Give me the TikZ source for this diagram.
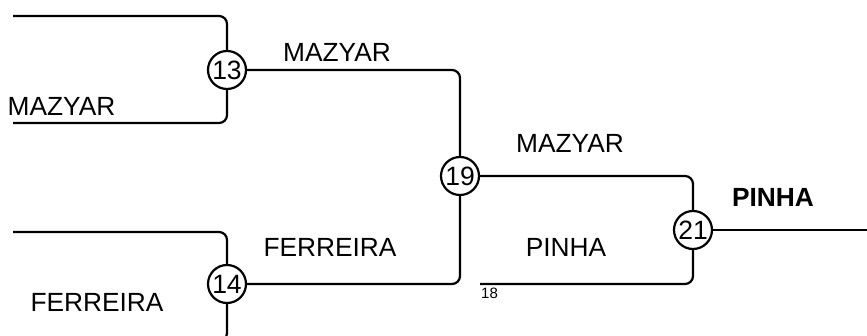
\documentclass[tikz,border=0pt]{standalone}
\usepackage{fontspec}
\setmainfont{Liberation Sans}
\begin{document}
\begin{tikzpicture}[x=1pt,y=-1pt,
  wire/.style={line width=2.2pt,rounded corners=8pt},
  match/.style={circle,draw,line width=2.2pt,minimum size=38pt,inner sep=0pt,font=\fontsize{26.5}{28}\selectfont},
  lbl/.style={inner sep=0pt,font=\fontsize{26.3}{30}\selectfont},
  small/.style={inner sep=0pt,font=\fontsize{15}{17}\selectfont}]
\useasboundingbox (0,0) rectangle (867,336);
\node[match] (n13) at (227,70) {13};
\node[match] (n14) at (227,284) {14};
\node[match] (n19) at (460,176) {19};
\node[match] (n21) at (693,230) {21};
\coordinate (ta) at (13,16);
\coordinate (tb) at (13,123);
\coordinate (ba) at (13,232);
\coordinate (bb) at (13,341);
\coordinate (c18) at (480,284);
\coordinate (fin) at (870,230);
\draw[wire] (ta) -| (n13);
\draw[wire] (tb) -| (n13);
\draw[wire] (ba) -| (n14);
\draw[wire] (n14) |- (bb);
\draw[wire] (n13) -| (n19);
\draw[wire] (n14) -| (n19);
\draw[wire] (n19) -| (n21);
\draw[wire] (c18) -| (n21);
\draw[wire] (n21) -- (fin);
\node[lbl] (l1) at (337,52) {MAZYAR};
\node[lbl] (l2) at (61.5,106) {MAZYAR};
\node[lbl] (l3) at (570,143) {MAZYAR};
\node[lbl,font=\fontsize{26.3}{30}\selectfont\bfseries] (l4) at (773,197) {PINHA};
\node[lbl] (l5) at (566,247.5) {PINHA};
\node[lbl] (l6) at (330,247.5) {FERREIRA};
\node[lbl] (l7) at (97,302.5) {FERREIRA};
\node[small] (l8) at (489.5,293) {18};
\end{tikzpicture}
\end{document}
